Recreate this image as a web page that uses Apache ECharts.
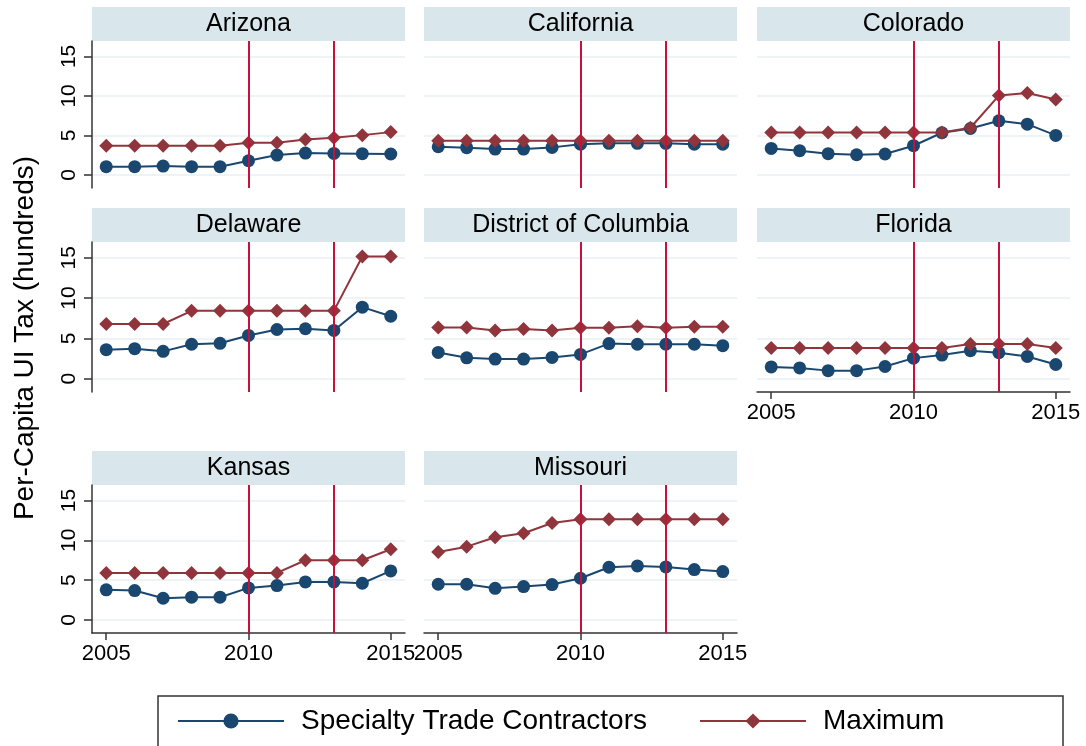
<!DOCTYPE html>
<html>
	<head>
		<meta charset="utf-8">
		<title>Per-Capita UI Tax</title>
		<style>
			html,body{margin:0;padding:0;background:#fff;}
			#main{width:1086px;height:746px;}
		</style>
	</head>
	<body>
		<div id="main"></div>
		<script src="https://cdn.jsdelivr.net/npm/echarts@6/dist/echarts.min.js" type="text/javascript" charset="utf-8"></script>
		<script type="text/javascript">
			var years = [2005,2006,2007,2008,2009,2010,2011,2012,2013,2014,2015];
			var yTicks = [0,5,10,15];
			var xTicks = [2005,2010,2015];
			var policyYears = [2010,2013];
			var seriesNames = ['Specialty Trade Contractors','Maximum'];
			var stateNames = ['Arizona','California','Colorado','Delaware','District of Columbia','Florida','Kansas','Missouri'];

			var arizonaTrade = [1.05,1.05,1.13,1.05,1.05,1.8,2.52,2.77,2.73,2.69,2.65];
			var arizonaMax = [3.7,3.7,3.7,3.7,3.7,4.08,4.08,4.5,4.7,5.04,5.42];
			var californiaTrade = [3.57,3.45,3.28,3.28,3.49,3.9,4.0,4.0,4.0,3.9,3.9];
			var californiaMax = [4.33,4.33,4.33,4.33,4.33,4.33,4.33,4.33,4.33,4.33,4.33];
			var coloradoTrade = [3.36,3.07,2.69,2.56,2.65,3.7,5.34,5.88,6.85,6.43,5.0];
			var coloradoMax = [5.38,5.38,5.38,5.38,5.38,5.38,5.38,5.97,10.04,10.38,9.54];
			var delawareTrade = [3.6,3.72,3.39,4.27,4.39,5.36,6.1,6.19,5.98,8.87,7.74];
			var delawareMax = [6.78,6.78,6.78,8.41,8.41,8.41,8.41,8.41,8.41,15.15,15.15];
			var dcTrade = [3.26,2.59,2.43,2.43,2.64,3.01,4.35,4.27,4.27,4.27,4.1];
			var dcMax = [6.36,6.36,5.98,6.15,5.98,6.32,6.32,6.49,6.32,6.44,6.44];
			var floridaTrade = [1.46,1.34,1.0,1.0,1.51,2.55,2.93,3.47,3.22,2.76,1.76];
			var floridaMax = [3.81,3.81,3.81,3.81,3.81,3.81,3.81,4.31,4.31,4.31,3.81];
			var kansasTrade = [3.77,3.68,2.72,2.85,2.85,4.02,4.31,4.77,4.77,4.6,6.15];
			var kansasMax = [5.9,5.9,5.9,5.9,5.9,5.9,5.9,7.49,7.49,7.49,8.87];
			var missouriTrade = [4.48,4.48,3.97,4.18,4.44,5.23,6.61,6.78,6.65,6.32,6.07];
			var missouriMax = [8.54,9.2,10.38,10.88,12.18,12.64,12.64,12.64,12.64,12.64,12.64];

			var tradeData = [arizonaTrade,californiaTrade,coloradoTrade,delawareTrade,dcTrade,floridaTrade,kansasTrade,missouriTrade];
			var maxData = [arizonaMax,californiaMax,coloradoMax,delawareMax,dcMax,floridaMax,kansasMax,missouriMax];

			var blue = '#1a476f', red = '#90353b', vline = '#c8103c';
			var font = 'Liberation Sans, Arial, sans-serif';
			var colLeft = [92,424,757], panelW = 313;
			var rowTop = [41,242,485], rowH = [147,150,148], stripH = 34;
			// panels that carry the x axis (bottom of each column)
			var showX = [false,false,false,false,false,true,true,true];

			function pairs(vals){
				var out = [];
				for(var i = 0; i < years.length; i++){
					out.push([years[i],vals[i]]);
				}
				return out;
			}

			var grids = [],xAxes = [],yAxes = [],series = [],graphics = [];
			stateNames.forEach(function(name,i){
				var c = i % 3,r = Math.floor(i / 3);
				grids.push({left:colLeft[c],top:rowTop[r],width:panelW,height:rowH[r]});
				graphics.push({
					type:'rect',
					shape:{x:colLeft[c],y:rowTop[r] - stripH,width:panelW,height:stripH},
					style:{fill:'#d9e6eb'}
				});
				graphics.push({
					type:'text',
					x:colLeft[c] + panelW / 2,
					y:rowTop[r] - stripH / 2,
					style:{text:name,fill:'#000',font:'25px ' + font,textAlign:'center',textVerticalAlign:'middle'}
				});
				xAxes.push({
					type:'value',
					gridIndex:i,
					min:2004.5,
					max:2015.5,
					show:showX[i],
					axisLine:{show:true,onZero:false,lineStyle:{color:'#333',width:1.5}},
					axisTick:{show:true,length:7,customValues:xTicks,lineStyle:{color:'#333',width:1.5}},
					axisLabel:{
						customValues:xTicks,fontSize:22,fontFamily:font,color:'#000',margin:10,
						formatter:function(v){ return String(v); }
					},
					splitLine:{show:false}
				});
				var leftCol = c == 0;
				yAxes.push({
					type:'value',
					gridIndex:i,
					min:-1.65,
					max:16.95,
					axisLine:{show:leftCol,lineStyle:{color:'#333',width:1.5}},
					axisTick:{show:leftCol,length:8,customValues:yTicks,lineStyle:{color:'#333',width:1.5}},
					axisLabel:{show:leftCol,customValues:yTicks,rotate:90,fontSize:21,fontFamily:font,color:'#000',margin:12},
					splitLine:{show:true,lineStyle:{color:'#e8f0f2',width:1.5}}
				});
				series.push({
					name:seriesNames[0],
					type:'line',
					xAxisIndex:i,
					yAxisIndex:i,
					data:pairs(tradeData[i]),
					symbol:'circle',
					symbolSize:13,
					itemStyle:{color:blue},
					lineStyle:{color:blue,width:2},
					animation:false
				});
				series.push({
					name:seriesNames[1],
					type:'line',
					xAxisIndex:i,
					yAxisIndex:i,
					data:pairs(maxData[i]),
					symbol:'diamond',
					symbolSize:14,
					itemStyle:{color:red},
					lineStyle:{color:red,width:2},
					animation:false,
					markLine:{
						silent:true,
						symbol:'none',
						label:{show:false},
						lineStyle:{color:vline,width:2,type:'solid'},
						data:policyYears.map(function(y){ return {xAxis:y}; }),
						animation:false
					}
				});
			});

			// y title
			graphics.push({
				type:'text',
				x:25,
				y:338,
				rotation:Math.PI / 2,
				style:{text:'Per-Capita UI Tax (hundreds)',fill:'#000',font:'28px ' + font,textAlign:'center',textVerticalAlign:'middle'}
			});
			// legend box
			graphics.push({
				type:'rect',
				shape:{x:158,y:696,width:905,height:52},
				style:{fill:'none',stroke:'#333',lineWidth:1.5}
			});

			var myChart = echarts.init(document.getElementById('main'));
			var option = {
				backgroundColor:'#fff',
				animation:false,
				grid:grids,
				xAxis:xAxes,
				yAxis:yAxes,
				legend:{
					data:seriesNames,
					left:172,
					top:702,
					itemWidth:106,
					itemHeight:19,
					itemGap:52,
					textStyle:{fontSize:28,fontFamily:font,color:'#000',padding:[0,0,0,12]}
				},
				graphic:graphics,
				series:series
			};
			myChart.setOption(option);
		</script>
	</body>
</html>
